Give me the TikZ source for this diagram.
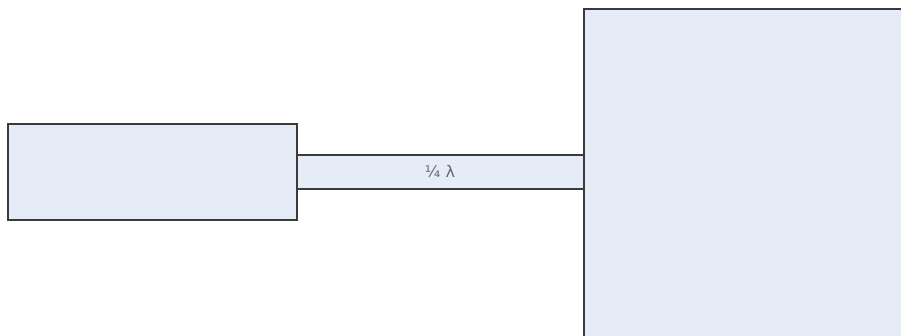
\documentclass[tikz,border=0pt]{standalone}
\usepackage{fontspec}
\newfontfamily\lblfont{DejaVu Sans}
\definecolor{boxfill}{HTML}{E6ECF7}
\definecolor{boxline}{HTML}{3A3A3A}
\begin{document}
\begin{tikzpicture}[x=1pt,y=-1pt,
  blk/.style={draw=boxline,fill=boxfill,line width=1.2pt}]
\useasboundingbox (0,0) rectangle (901,335);
\clip (0,0) rectangle (901,335);
\path[blk] (8,124) rectangle (297,220) coordinate (srcbr);
\coordinate (src) at (8,124);
\path[blk] (584,9) rectangle (912,346);
\coordinate (load) at (584,9);
\path[blk] (297,155) rectangle (584,189);
\node[font=\lblfont\fontsize{16}{18}\selectfont, text=black!60, inner sep=0pt] (lbl) at (440,172) {¼ λ};
\end{tikzpicture}
\end{document}
